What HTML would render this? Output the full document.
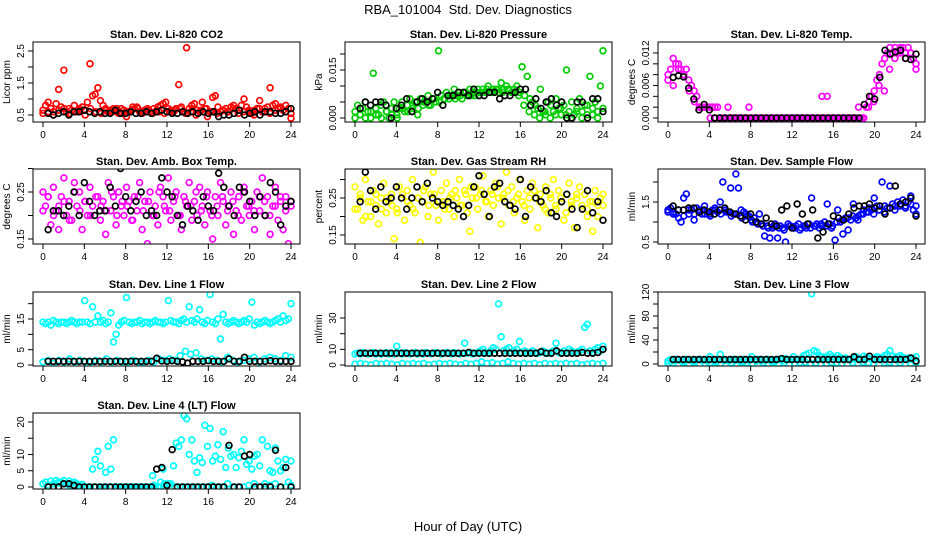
<!DOCTYPE html>
<html><head><meta charset="utf-8"><style>
html,body{margin:0;padding:0;background:#fff;}
svg{display:block;font-family:"Liberation Sans",Arial,sans-serif;}
</style></head><body>
<svg id="chart" width="936" height="540" viewBox="0 0 936 540" xmlns="http://www.w3.org/2000/svg">
<rect width="936" height="540" fill="#fff"/>
<text x="468" y="14" font-size="13" text-anchor="middle">RBA_101004&#160; Std. Dev. Diagnostics</text>
<text x="468" y="531" font-size="13" text-anchor="middle">Hour of Day (UTC)</text>
</svg>
<script>
// ---- data ----
const xTicks=[0,4,8,12,16,20,24];
const co2A=[0.65,0.8,0.9,0.7,0.6,0.85,1.3,0.75,1.9,0.6,0.7,0.65,0.8,0.6,0.7,0.75,0.65,0.9,2.1,1.1,1.15,1.35,0.95,0.8,0.7,0.6,0.65,0.7,0.6,0.55,0.7,0.65,0.45,0.6,0.65,0.7,0.75,0.6,0.55,0.65,0.7,0.6,0.55,0.6,0.75,0.8,0.85,0.9,0.7,0.65,0.6,0.7,1.45,0.75,0.6,2.6,0.7,0.8,0.85,0.65,0.6,0.9,0.7,0.45,0.6,1.05,1.1,0.75,0.6,0.65,0.7,0.6,0.75,0.8,0.7,0.65,0.8,1.0,0.75,0.6,0.55,0.65,0.7,0.95,0.6,0.7,0.75,1.35,0.8,0.85,0.7,0.75,0.65,0.8,0.7,0.4];
const co2B=[0.55,0.6,0.5,0.65,0.7,0.55,0.6,0.65,0.5,0.7,0.6,0.55,0.65,0.6,0.7,0.55,0.6,0.75,0.7,0.6,0.65,0.7,0.6,0.55,0.6,0.65,0.7,0.55,0.6,0.5,0.65,0.7,0.6,0.55,0.65,0.6,0.7,0.55,0.6,0.65,0.5,0.7,0.6,0.55,0.65,0.7,0.6,0.55];
const co2K=[0.55,0.5,0.55,0.6,0.5,0.6,0.6,0.65,0.6,0.55,0.6,0.55,0.55,0.65,0.55,0.55,0.6,0.55,0.55,0.6,0.55,0.6,0.65,0.6,0.55,0.55,0.6,0.55,0.6,0.55,0.6,0.55,0.6,0.45,0.5,0.5,0.55,0.65,0.5,0.55,0.6,0.5,0.6,0.6,0.55,0.55,0.6,0.7];
const prA=[0.002,0.004,0.001,0.003,0.005,0.002,0.000,0.014,0.003,0.001,0.004,0.005,0.002,0.000,0.003,0.005,0.001,0.003,0.005,0.002,0.004,0.006,0.003,0.005,0.001,0.006,0.004,0.005,0.007,0.004,0.006,0.005,0.021,0.007,0.006,0.008,0.006,0.007,0.009,0.007,0.008,0.006,0.008,0.007,0.009,0.008,0.007,0.009,0.008,0.009,0.008,0.010,0.008,0.009,0.009,0.008,0.011,0.009,0.010,0.009,0.008,0.009,0.010,0.008,0.016,0.007,0.013,0.006,0.005,0.004,0.003,0.009,0.002,0.001,0.005,0.004,0.002,0.006,0.003,0.001,0.004,0.015,0.002,0.005,0.001,0.003,0.006,0.002,0.004,0.001,0.013,0.003,0.005,0.002,0.010,0.021];
const prB=[0,0.001,0,0.002,0.001,0,0.002,0.001,0,0.003,0.002,0.004,0.003,0.005,0.004,0.006,0.005,0.006,0.007,0.006,0.007,0.008,0.007,0.008,0.008,0.009,0.008,0.009,0.008,0.009,0.008,0.007,0.004,0.002,0.001,0,0.002,0,0.001,0.003,0.001,0,0.002,0,0.004,0.001,0,0.003];
const prK=[0.003,0.005,0.004,0.005,0.005,0.004,0.000,0.003,0.004,0.006,0.002,0.005,0.006,0.005,0.006,0.008,0.004,0.007,0.007,0.008,0.008,0.007,0.009,0.007,0.007,0.008,0.008,0.006,0.007,0.007,0.008,0.009,0.009,0.004,0.006,0.003,0.005,0.006,0.004,0.005,0.000,0.000,0.005,0.005,0.000,0.006,0.006,0.002];
const tmA=[0.008,0.009,0.011,0.010,0.010,0.009,0.008,0.009,0.007,0.006,0.005,0.004,0.002,0.002,0.002,0.002,0.002,0.002,0.002,0.002,0,0,0,0.002,0,0,0,0,0,0,0,0.002,0,0,0,0,0,0,0,0,0,0,0,0,0,0,0,0,0,0,0,0,0,0,0,0,0,0,0,0.004,0,0.004,0,0,0,0,0,0,0,0,0,0,0,0.002,0,0,0.002,0.003,0.004,0.005,0.007,0.008,0.010,0.011,0.012,0.013,0.012,0.013,0.012,0.013,0.013,0.012,0.013,0.012,0.011,0.010];
const tmB=[0.007,0.006,0.009,0.008,0.005,0.003,0.002,0.002,0,0,0,0,0,0,0,0,0,0,0,0,0,0,0,0,0,0,0,0,0,0,0,0,0,0,0,0,0,0,0.002,0.003,0.006,0.005,0.009,0.011,0.012,0.011,0.012,0.009];
const tmK=[0.0075,0.0078,0.0076,0.0055,0.0035,0.0015,0.0025,0.0015,0,0,0,0,0,0,0,0,0,0,0,0,0,0,0,0,0,0,0,0,0,0,0,0,0,0,0,0,0,0.0025,0.004,0.0035,0.0075,0.0125,0.0118,0.0122,0.0125,0.011,0.0108,0.0118];
const amA=[0.25,0.22,0.24,0.18,0.26,0.21,0.17,0.24,0.28,0.2,0.23,0.19,0.27,0.22,0.25,0.17,0.23,0.2,0.26,0.22,0.31,0.24,0.19,0.23,0.16,0.27,0.21,0.24,0.18,0.25,0.22,0.2,0.26,0.23,0.19,0.24,0.21,0.27,0.17,0.23,0.14,0.25,0.2,0.22,0.18,0.26,0.24,0.21,0.28,0.19,0.23,0.25,0.2,0.17,0.24,0.22,0.27,0.19,0.23,0.2,0.26,0.22,0.18,0.25,0.21,0.15,0.24,0.2,0.27,0.23,0.18,0.22,0.25,0.16,0.21,0.24,0.19,0.26,0.22,0.2,0.23,0.17,0.25,0.21,0.28,0.2,0.24,0.16,0.22,0.26,0.19,0.23,0.17,0.24,0.14,0.22];
const amB=[0.21,0.24,0.2,0.22,0.23,0.19,0.25,0.21,0.23,0.2,0.24,0.22,0.21,0.25,0.2,0.23,0.22,0.19,0.24,0.21,0.23,0.2,0.25,0.22,0.21,0.24,0.2,0.23,0.22,0.25,0.21,0.24,0.2,0.22,0.24,0.21,0.23,0.2,0.25,0.22,0.21,0.24,0.23,0.2,0.22,0.24,0.21,0.23];
const amK=[0.17,0.21,0.21,0.2,0.22,0.25,0.2,0.27,0.23,0.2,0.21,0.21,0.26,0.22,0.3,0.24,0.21,0.23,0.25,0.2,0.21,0.2,0.28,0.25,0.24,0.2,0.18,0.22,0.21,0.19,0.24,0.22,0.21,0.29,0.26,0.22,0.2,0.26,0.25,0.23,0.2,0.24,0.2,0.27,0.25,0.18,0.22,0.23];
const rhA=[0.28,0.22,0.26,0.19,0.3,0.24,0.2,0.27,0.23,0.18,0.25,0.29,0.21,0.24,0.26,0.14,0.22,0.28,0.25,0.19,0.27,0.23,0.3,0.21,0.25,0.13,0.24,0.28,0.2,0.26,0.32,0.23,0.19,0.27,0.24,0.29,0.22,0.26,0.2,0.25,0.3,0.23,0.27,0.21,0.16,0.25,0.28,0.22,0.26,0.31,0.24,0.2,0.27,0.23,0.29,0.25,0.18,0.26,0.32,0.23,0.28,0.21,0.25,0.3,0.24,0.19,0.27,0.22,0.29,0.25,0.17,0.26,0.23,0.28,0.21,0.25,0.3,0.22,0.27,0.24,0.19,0.26,0.29,0.23,0.17,0.25,0.28,0.22,0.26,0.2,0.24,0.16,0.27,0.23,0.25,0.26];
const rhB=[0.22,0.25,0.2,0.24,0.26,0.22,0.25,0.23,0.21,0.26,0.24,0.22,0.25,0.27,0.23,0.26,0.24,0.22,0.25,0.27,0.23,0.26,0.28,0.25,0.27,0.24,0.26,0.28,0.25,0.27,0.24,0.26,0.23,0.25,0.27,0.24,0.22,0.26,0.23,0.25,0.21,0.24,0.26,0.23,0.22,0.24,0.2,0.23];
const rhK=[0.24,0.32,0.27,0.22,0.28,0.24,0.25,0.28,0.25,0.22,0.25,0.28,0.24,0.29,0.25,0.24,0.23,0.24,0.23,0.22,0.2,0.23,0.28,0.31,0.26,0.2,0.28,0.29,0.24,0.23,0.22,0.3,0.2,0.28,0.25,0.24,0.27,0.21,0.2,0.24,0.26,0.22,0.17,0.22,0.27,0.21,0.24,0.19];
const sfA=[1.3,1.35,1.25,1.2,1.3,1.0,1.6,1.7,1.2,1.3,1.05,1.35,1.3,1.2,1.4,1.25,1.2,1.3,1.35,1.25,1.5,2.0,1.3,1.25,1.85,1.2,2.2,1.85,1.3,1.25,1.2,1.15,1.05,1.1,1.0,1.2,0.95,0.65,0.9,0.6,0.85,0.95,0.6,0.9,0.85,0.5,0.95,0.9,0.85,0.9,0.95,0.85,0.9,0.85,0.95,1.6,0.9,0.95,0.85,0.9,1.0,1.45,0.95,0.9,0.55,1.3,1.0,0.7,1.1,0.8,1.05,1.45,1.1,1.15,1.2,1.3,1.25,1.35,1.3,1.6,1.4,1.3,2.0,1.4,1.35,1.9,1.45,1.4,1.5,1.45,1.55,1.4,1.5,1.65,1.3,1.2];
const sfB=[1.25,1.2,1.1,1.15,1.3,1.2,1.25,1.2,1.15,1.3,1.2,1.25,1.15,1.2,1.1,1.15,1.0,0.95,0.9,0.85,0.9,0.85,0.8,0.9,0.85,0.8,0.9,0.85,0.9,0.95,0.9,0.85,1.0,1.05,1.1,1.15,1.05,1.2,1.25,1.2,1.3,1.25,1.35,1.3,1.4,1.35,1.45,1.4];
const sfK=[1.4,1.3,1.3,1.35,1.35,1.25,1.3,1.25,1.2,1.3,1.35,1.25,1.2,1.15,1.05,1.2,1.0,0.95,1.1,0.95,0.9,1.3,1.4,0.85,1.45,1.2,0.95,1.3,0.6,0.75,0.95,1.15,1.1,1.05,1.2,1.35,1.4,1.4,1.45,1.35,1.4,1.2,1.35,1.9,1.45,1.5,1.6,1.15];
const l1A=[14,13.5,14,13,14.5,14,13.5,14,14,13.5,14,14.5,14,13.5,14,14,21,14,13.5,19,14,16,14,14.5,13.5,14,17,7.5,10,13,14,14.5,22,14,13.5,14,14,14.5,13.5,14,14,13.5,14,14.5,14,14,13.5,14,21,14.5,14,14,13.5,14.5,15,14,19,14.5,14,15,18,14,13.5,14.5,23,14,13.5,15,8.5,16.5,14,13.5,14,14.5,14,13.5,14,14.5,14,15,20.5,13,14,13.5,14,14.5,14,13.5,14,14.5,15,14,16,14.5,15,20];
const l1B=[1,1.5,0.5,1.5,1,2,1,1.5,1,1,1.5,1,2,1,1.5,1,1,1.5,1,1,1.5,1,2,1.5,2,1.5,3,4.5,3.5,4,2,1.5,2,1.5,1,2.5,1.5,1,1.5,2,2.5,1,2,2.5,2,1.5,3,2.5];
const l1K=[1.2,1.2,1.2,1.2,1.2,1.2,1.2,1.2,1.2,1.2,1.2,1.2,1.2,1.2,1.2,1.2,1.2,1.2,1.2,1.2,1.2,2.2,1.3,1.2,1.4,1.2,1.0,0.6,1.2,1.2,1.2,1.4,1.2,1.2,1.2,2.0,1.2,1.2,2.5,1.2,1.2,1.2,1.2,1.4,1.2,1.2,1.2,1.2];
const l2A=[7,7.5,7,8,7.5,7,7.5,8,7,7.5,7,7.5,8,7,7.5,7,12,7.5,7,8,7.5,7,7.5,8,7,7.5,7,8,7.5,7,7.5,8,7.5,7,7.5,8,7.5,7,8,7.5,7,7.5,14,7.5,8,7,7.5,8,9,10,8,7.5,9,11,10,39,18,9,10,11,8,9,10,15,8,9,7.5,8,9,8,7.5,8,9,8,7.5,8,9,14,8,7.5,9,8,10,9,8,7.5,9,10,24,26,9,8,10,11,9,12];
const l2B=[0.5,1,0.5,0,1,0.5,1,0.5,0,1,0.5,1,0.5,1,0,0.5,1,0.5,1,0.5,0,1,0.5,1,2,1,1.5,0.5,1,2,1,0.5,1,0.5,1,0,1,0.5,1,0.5,1,0.5,1,0,0.5,1,0.5,1];
const l2K=[7.5,7.5,7.5,7.5,7.5,7.5,7.5,7.5,7.5,7.5,7.5,7.5,7.5,7.5,7.5,7.5,7.5,7.5,7.5,7.5,7.5,8,7.5,7.5,7.5,7.5,7.5,7.5,7.5,7.5,7.5,7.5,7.5,7.5,7.5,8.5,7.5,7.5,9,7.5,7.5,7.5,7.5,8,7.5,7.5,8,10];
const l3A=[5,7,6,8,7,5,6,8,7,6,5,7,8,6,7,5,12,7,6,8,16,7,6,5,7,8,6,7,5,8,7,6,12,7,5,8,6,7,8,6,7,5,8,7,6,9,7,8,12,8,7,9,14,16,18,117,22,20,14,12,10,13,16,12,10,14,11,9,10,8,7,9,12,10,8,13,11,9,8,10,12,11,9,14,16,22,13,10,12,14,11,9,10,8,9,12];
const l3B=[1,2,0,3,1,2,0,1,2,3,1,0,2,1,3,2,1,0,2,1,3,1,2,0,1,2,3,1,2,0,1,3,2,1,0,2,1,3,2,1,0,2,3,1,2,0,1,2];
const l3K=[7.5,7.5,7.5,7.5,7.5,7.5,7.5,7.5,7.5,7.5,7.5,7.5,7.5,7.5,7.5,7.5,7.5,7.5,7.5,7.5,7.5,9,7.5,7.5,7.5,7.5,7.5,7.5,7.5,7.5,7.5,7.5,7.5,7.5,7.5,12,7.5,7.5,13,7.5,7.5,7.5,7.5,7.5,7.5,7.5,10,5];
const l4A=[1,1.5,0.5,1.8,1,2,1.2,1.5,2,1,1.8,1.2,1.5,1,0.5,0.8,0,0,0,5.5,8.5,11,6.5,0,4.5,12.5,5.5,14.5,0,0,0,0,0,0,0,0,0,0,0,0,0,0,3.5,0,0,1.5,5.5,0,1,1,6.5,13.5,12.5,14.5,22,21,10,14.5,8,4.5,9,7.5,19,12.5,18,8,9.5,13,8.5,17,6,12,9.5,10,6,9,11,14.5,7,8,5.5,9.5,10,6.5,14.5,1,12.5,5,4.5,12,8,5,6,8.5,1.5,8];
const l4B=[1,0.5,1,1.5,1,0.5,0.2,0,0,0,0,0,0,0,0,0,0,0,0,0,0,0.5,0,1,1,0,0,0,0,0,0,0,0.5,0,0,1,0,0,0,0.5,1,0,0,0.5,1,0,0,0.5];
const l4K=[0,0,0,1,1,0.5,0,0,0,0,0,0,0,0,0,0,0,0,0,0,0,5.5,6,0.5,11.5,0,0,0,0,0,0,0,0,0,0,12.8,0,0,9.5,10,0,0,0,0,11.3,0,6,0];

const yTicksCO2=[0.5,1,1.5,2,2.5], yLabCO2=["0.5","","1.5","","2.5"];
const yTicksPr=[0,0.005,0.01,0.015,0.02], yLabPr=["0.000","","","0.015",""];
const yTicksTm=[0,0.002,0.004,0.006,0.008,0.01,0.012], yLabTm=["0.000","","","0.006","","","0.012"];
const yTicksAm=[0.15,0.2,0.25,0.3], yLabAm=["0.15","","0.25",""];
const yTicksRh=[0.15,0.2,0.25,0.3], yLabRh=["0.15","","0.25",""];
const yTicksSf=[0.5,1,1.5,2], yLabSf=["0.5","","1.5",""];
const yTicksL1=[0,5,10,15,20], yLabL1=["0","5","","15",""];
const yTicksL2=[0,10,20,30], yLabL2=["0","10","","30"];
const yTicksL3=[0,20,40,60,80,100,120], yLabL3=["0","","40","","80","","120"];
const yTicksL4=[0,5,10,15,20], yLabL4=["0","5","10","","20"];

// ---- layout ----
const NS="http://www.w3.org/2000/svg";
const svg=document.getElementById('chart');
function el(tag,attrs,parent){const e=document.createElementNS(NS,tag);for(const k in attrs)e.setAttribute(k,attrs[k]);(parent||svg).appendChild(e);return e;}
const colL=[33,345,658], rowT=[42,169,292,413], rowH=[80,75,74,76], W=267;
const panels=[
 {key:'co2',title:'Stan. Dev. Li-820 CO2',yl:'Licor ppm',c:0,r:0,col:'#ff0000',ser:[co2A,co2B],blk:co2K,yt:yTicksCO2,ylab:yLabCO2,v0:0.5,p0:115,v1:2.5,p1:51},
 {key:'pressure',title:'Stan. Dev. Li-820 Pressure',yl:'kPa',c:1,r:0,col:'#00cc00',ser:[prA,prB],blk:prK,yt:yTicksPr,ylab:yLabPr,v0:0,p0:118,v1:0.015,p1:70},
 {key:'temp',title:'Stan. Dev. Li-820 Temp.',yl:'degrees C',c:2,r:0,col:'#ff00ff',ser:[tmA,tmB],blk:tmK,yt:yTicksTm,ylab:yLabTm,v0:0,p0:118,v1:0.012,p1:53},
 {key:'amb-box-temp',title:'Stan. Dev. Amb. Box Temp.',yl:'degrees C',c:0,r:1,col:'#ff00ff',ser:[amA,amB],blk:amK,yt:yTicksAm,ylab:yLabAm,v0:0.15,p0:239,v1:0.25,p1:192},
 {key:'gas-stream-rh',title:'Stan. Dev. Gas Stream RH',yl:'percent',c:1,r:1,col:'#ffff00',ser:[rhA,rhB],blk:rhK,yt:yTicksRh,ylab:yLabRh,v0:0.15,p0:235,v1:0.25,p1:198},
 {key:'sample-flow',title:'Stan. Dev. Sample Flow',yl:'ml/min',c:2,r:1,col:'#0000ff',ser:[sfA,sfB],blk:sfK,yt:yTicksSf,ylab:yLabSf,v0:0.5,p0:242,v1:1.5,p1:202},
 {key:'line1-flow',title:'Stan. Dev. Line 1 Flow',yl:'ml/min',c:0,r:2,col:'#00ffff',ser:[l1A,l1B],blk:l1K,yt:yTicksL1,ylab:yLabL1,v0:0,p0:365,v1:15,p1:319},
 {key:'line2-flow',title:'Stan. Dev. Line 2 Flow',yl:'ml/min',c:1,r:2,col:'#00ffff',ser:[l2A,l2B],blk:l2K,yt:yTicksL2,ylab:yLabL2,v0:0,p0:365,v1:30,p1:318},
 {key:'line3-flow',title:'Stan. Dev. Line 3 Flow',yl:'ml/min',c:2,r:2,col:'#00ffff',ser:[l3A,l3B],blk:l3K,yt:yTicksL3,ylab:yLabL3,v0:0,p0:364,v1:120,p1:292},
 {key:'line4-flow',title:'Stan. Dev. Line 4 (LT) Flow',yl:'ml/min',c:0,r:3,col:'#00ffff',ser:[l4A,l4B],blk:l4K,yt:yTicksL4,ylab:yLabL4,v0:0,p0:487,v1:20,p1:422}
];
panels.forEach(p=>{
 const L=colL[p.c], T=rowT[p.r], H=rowH[p.r], B=T+H;
 const xs=h=>L+10+h*248/24;
 const ys=v=>p.p0+(v-p.v0)*(p.p1-p.p0)/(p.v1-p.v0);
 const g=el('g',{});
 
 
 const cp=el('clipPath',{id:'cp-'+p.key},g);
 el('rect',{x:L,y:T,width:W,height:H},cp);
 const t=el('text',{x:L+W/2,y:T-4,'font-size':11,'font-weight':'bold','text-anchor':'middle'},g);
 t.textContent=p.title;
 
 
 const pts=el('g',{'clip-path':'url(#cp-'+p.key+')',fill:'none','stroke-width':1.7},g);
 
 
 p.ser.forEach(arr=>{arr.forEach((v,i)=>{
   const h=i*24/(arr.length-1);
   const c=el('circle',{cx:xs(h),cy:ys(v),r:2.9,stroke:p.col},pts);
   
   
 });});
 p.blk.forEach((v,i)=>{
   const h=0.5+i*23.5/(p.blk.length-1);
   const c=el('circle',{cx:xs(h),cy:ys(v),r:2.9,stroke:'#000'},pts);
   
   
 });
 const box=el('rect',{x:L,y:T,width:W,height:H,fill:'none',stroke:'#000','stroke-width':1},g);
 
 
 const xa=el('g',{stroke:'#000','stroke-width':1},g);
 
 
 el('line',{x1:xs(0),x2:xs(24),y1:B,y2:B},xa);
 xTicks.forEach(h=>{
   el('line',{x1:xs(h),x2:xs(h),y1:B,y2:B+5},xa);
   const tl=el('text',{x:xs(h),y:B+16,'font-size':10,'text-anchor':'middle',stroke:'none'},xa);
   tl.textContent=h;
   
   
 });
 const ya=el('g',{stroke:'#000','stroke-width':1},g);
 
 
 el('line',{x1:L,x2:L,y1:ys(p.yt[0]),y2:ys(p.yt[p.yt.length-1])},ya);
 p.yt.forEach((v,i)=>{
   el('line',{x1:L-5,x2:L,y1:ys(v),y2:ys(v)},ya);
   if(p.ylab[i]){
     const x=L-9,y=ys(v);
     const tl=el('text',{x:x,y:y,'font-size':10,'text-anchor':'middle',stroke:'none',transform:'rotate(-90 '+x+' '+y+')'},ya);
     tl.textContent=p.ylab[i];
     
     
   }
 });
 const yx=L-23, yy=T+H/2;
 const yt=el('text',{x:yx,y:yy,'font-size':10,'text-anchor':'middle',transform:'rotate(-90 '+yx+' '+yy+')'},g);
 yt.textContent=p.yl;
 
 
});
</script>
</body></html>
